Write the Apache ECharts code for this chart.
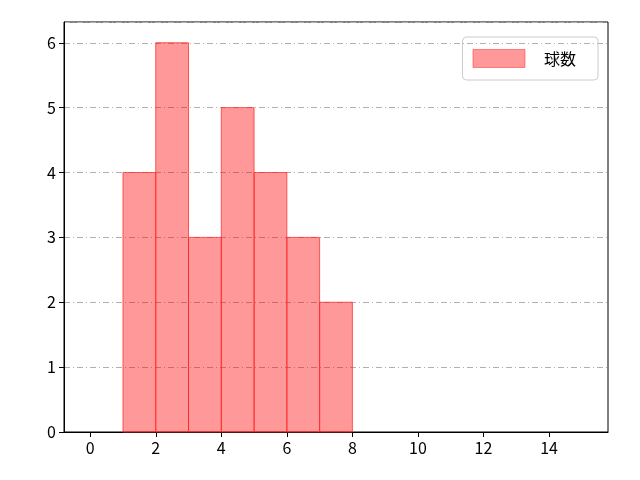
<!DOCTYPE html>
<html><head><meta charset="utf-8">
<script src="https://cdn.jsdelivr.net/npm/echarts@6/dist/echarts.min.js"></script>
<style>html,body{margin:0;padding:0;background:#fff}#c{width:640px;height:480px}</style>
</head><body><div id="c"></div>
<script>
var binStarts = [1, 2, 3, 4, 5, 6, 7];
var binEnds = [2, 3, 4, 5, 6, 7, 8];
var counts = [4, 6, 3, 5, 4, 3, 2];
var xTicks = [0, 2, 4, 6, 8, 10, 12, 14];
var seriesName = '球数';
var data = binStarts.map(function (s, i) { return [s, binEnds[i], counts[i]]; });
var font = '"Noto Sans CJK JP", "DejaVu Sans", sans-serif';
var chart = echarts.init(document.getElementById('c'));
chart.setOption({
  animation: false,
  grid: { left: 64, right: 32, top: 22, bottom: 48, show: true, borderColor: '#000', borderWidth: 1 },
  legend: {
    right: 42, top: 37, orient: 'vertical',
    data: [{ name: seriesName, icon: 'rect' }],
    itemWidth: 52, itemHeight: 18,
    padding: [12, 22, 12, 10],
    borderColor: '#ccc', borderWidth: 1, borderRadius: 4,
    itemStyle: { borderColor: 'rgba(255,40,40,0.5)', borderWidth: 1 },
    textStyle: { fontSize: 16, fontFamily: font, color: '#000', padding: [0, 0, 0, 14] }
  },
  xAxis: {
    type: 'value', min: -0.8, max: 15.8, interval: 2,
    axisLine: { show: true, onZero: false, lineStyle: { color: '#000' } },
    splitLine: { show: false },
    axisLabel: {
      fontSize: 16, fontFamily: font, color: '#000',
      customValues: xTicks,
      formatter: function (v) { return xTicks.indexOf(v) >= 0 ? String(v) : ''; }
    },
    axisTick: { show: true, customValues: xTicks, length: 5, lineStyle: { color: '#000' } }
  },
  yAxis: {
    type: 'value', min: 0, max: 6.32, interval: 1,
    axisLine: { show: true, onZero: false, lineStyle: { color: '#000' } },
    axisTick: { show: true, length: 5, lineStyle: { color: '#000' } },
    axisLabel: { fontSize: 16, fontFamily: font, color: '#000', showMaxLabel: false },
    splitLine: { show: true, lineStyle: { color: '#b0b0b0', type: [6, 3, 1, 3] } }
  },
  series: [{
    name: seriesName, type: 'custom',
    itemStyle: { color: 'rgba(255,0,0,0.4)', borderColor: 'rgba(255,40,40,0.75)', borderWidth: 1 },
    encode: { x: [0, 1], y: 2 },
    renderItem: function (params, api) {
      var p0 = api.coord([api.value(0), api.value(2)]);
      var p1 = api.coord([api.value(1), 0]);
      return {
        type: 'rect',
        shape: { x: p0[0], y: p0[1], width: p1[0] - p0[0], height: p1[1] - p0[1] },
        style: { fill: 'rgba(255,0,0,0.4)', stroke: 'rgba(255,40,40,0.75)', lineWidth: 1 }
      };
    },
    data: data
  }]
});
</script></body></html>
